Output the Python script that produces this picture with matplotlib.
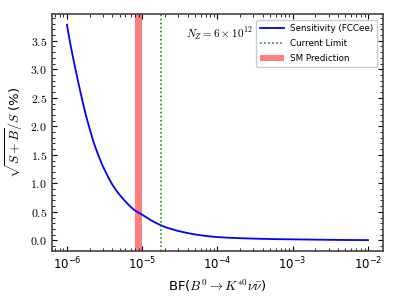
import matplotlib
matplotlib.use("Agg")
import matplotlib.pyplot as plt
from matplotlib.ticker import FormatStrFormatter

plt.rcParams["mathtext.fontset"] = "cm"
plt.rcParams["font.family"] = "DejaVu Sans"

# sensitivity curve
bf = [1e-6, 1.1e-6, 1.2e-6, 1.3e-6, 1.4e-6, 1.5e-6, 1.65e-6, 1.8e-6, 2e-6,
      2.25e-6, 2.5e-6, 2.75e-6, 3e-6, 3.5e-6, 4e-6, 4.5e-6, 5e-6, 6e-6,
      7e-6, 8e-6, 9e-6, 1e-5, 1.15e-5, 1.3e-5, 1.5e-5, 1.8e-5, 2.1e-5,
      2.5e-5, 3e-5, 3.5e-5, 4.2e-5, 5e-5, 6e-5, 7e-5, 8.5e-5, 1e-4,
      1.4e-4, 2e-4, 3e-4, 4e-4, 6e-4, 1e-3, 2e-3, 3e-3, 5e-3, 1e-2]
sens = [3.78, 3.47, 3.22, 3.00, 2.80, 2.62, 2.38, 2.18, 1.96,
        1.73, 1.56, 1.42, 1.30, 1.12, 0.98, 0.88, 0.80, 0.68,
        0.59, 0.525, 0.485, 0.45, 0.40, 0.355, 0.31, 0.26, 0.225,
        0.195, 0.165, 0.145, 0.123, 0.105, 0.09, 0.078, 0.066, 0.058,
        0.047, 0.038, 0.031, 0.027, 0.022, 0.018, 0.013, 0.010, 0.007, 0.005]

current_limit = 1.8e-5
sm_low, sm_high = 8.1e-6, 1.0e-5

fig = plt.figure(figsize=(3.99, 2.99), dpi=100)
ax = fig.add_axes([0.130, 0.161, 0.830, 0.792])

ax.plot(bf, sens, color="blue", lw=1.3, label="Sensitivity (FCCee)")
ax.axvline(current_limit, color="green", ls=":", lw=1.1, label="Current Limit")
ax.axvspan(sm_low, sm_high, color="red", alpha=0.5, lw=0, label="SM Prediction")
ax.set_xscale("log")

ax.yaxis.set_major_formatter(FormatStrFormatter("$%.1f$"))
ax.minorticks_on()
ax.tick_params(which="both", direction="in", top=True, right=True, labelsize=8.5)
ax.tick_params(which="major", length=3.5)
ax.tick_params(which="minor", length=2)
for s in ax.spines.values():
    s.set_linewidth(1.2)
    s.set_color("#444444")

ax.set_xlabel(r"BF($B^0 \to K^{*0} \nu \bar{\nu}$)", fontsize=9.5)
ax.set_ylabel(r"$\sqrt{S+B}/S$ (%)", fontsize=9.5)

ax.text(0.405, 0.915, r"$N_Z = 6 \times 10^{12}$", transform=ax.transAxes,
        fontsize=8, ha="left", va="center")

ax.legend(loc="upper right", fontsize=6.3, framealpha=1, borderpad=0.45,
          handlelength=2.7, handletextpad=0.7, labelspacing=0.7,
          borderaxespad=0.3, bbox_to_anchor=(0.99, 0.985))

fig.savefig("out.png", dpi=100)
